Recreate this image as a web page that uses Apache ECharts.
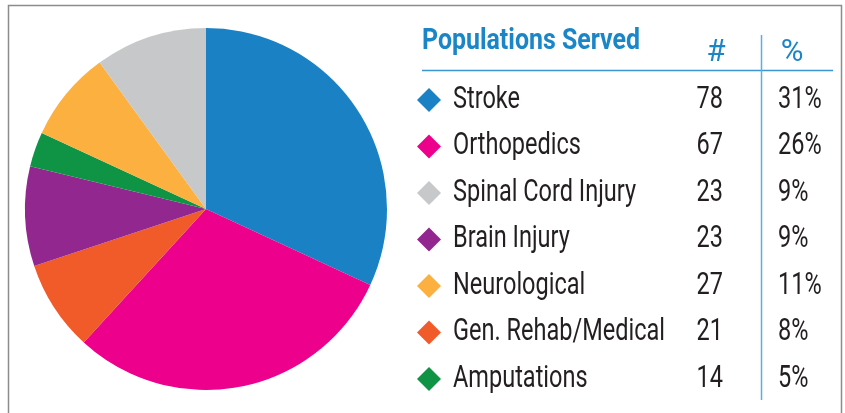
<!DOCTYPE html>
<html>
<head>
<meta charset="utf-8">
<script src="https://cdn.jsdelivr.net/npm/echarts@6/dist/echarts.min.js"></script>
<style>
html,body{margin:0;padding:0;background:#fff;}
#chart{width:845px;height:413px;}
</style>
</head>
<body>
<div id="chart"></div>
<script>
// Table rows, in table order
var categories = ['Stroke', 'Orthopedics', 'Spinal Cord Injury', 'Brain Injury', 'Neurological', 'Gen. Rehab/Medical', 'Amputations'];
var counts = [78, 67, 23, 23, 27, 21, 14];
var percents = [31, 26, 9, 9, 11, 8, 5];
var colors = ['#1a82c4', '#ec008c', '#c7c8ca', '#92278f', '#fbb040', '#f15a29', '#0f9445'];
var tableTitle = 'Populations Served';
var columnHeads = ['#', '%'];

// Pie slices as drawn (clockwise from 12 o'clock), shares
var sliceOrder = ['Stroke', 'Orthopedics', 'Gen. Rehab/Medical', 'Brain Injury', 'Amputations', 'Neurological', 'Spinal Cord Injury'];
var sliceShares = [31.9, 29.9, 8.1, 8.9, 3.1, 8.1, 10.0];

var FAMILY = 'Roboto';
var TEXT = '#231f20';
var BLUE = '#1a86c8';
var FS = 30.5;
var TFS = 29.5;
var HFS = 31;

// condensed look: horizontal squeeze measured against the reference widths
var mctx = document.createElement('canvas').getContext('2d');
function textW(t, font) { mctx.font = font; return mctx.measureText(t).width; }
var bodyScale = 212 / textW('Gen. Rehab/Medical', FS + 'px ' + FAMILY);
var titleScale = 218 / textW(tableTitle, 'bold ' + TFS + 'px ' + FAMILY);

var chart = echarts.init(document.getElementById('chart'), null, {renderer: 'canvas'});

var pieData = sliceOrder.map(function (name, i) {
  return {name: name, value: sliceShares[i], itemStyle: {color: colors[categories.indexOf(name)]}};
});

var ROW0 = 100, ROWH = 46.5;
var graphics = [
  {type: 'rect', shape: {x: 8.5, y: 5.5, width: 833, height: 430}, style: {fill: 'none', stroke: '#8c8c8c', lineWidth: 1.5}, silent: true},
  {type: 'text', x: 422, y: 41.5, scaleX: titleScale, style: {text: tableTitle, fontFamily: FAMILY, fontWeight: 'bold', fontSize: TFS, fill: BLUE, verticalAlign: 'middle'}},
  {type: 'text', x: 716, y: 53.5, style: {text: columnHeads[0], fontFamily: FAMILY, fontSize: HFS, fill: BLUE, align: 'center', verticalAlign: 'middle'}},
  {type: 'text', x: 792, y: 53.5, style: {text: columnHeads[1], fontFamily: FAMILY, fontSize: HFS, fill: BLUE, align: 'center', verticalAlign: 'middle'}},
  {type: 'line', shape: {x1: 422, y1: 70.5, x2: 833, y2: 70.5}, style: {stroke: '#3b95d3', lineWidth: 1.5}},
  {type: 'line', shape: {x1: 761.5, y1: 35, x2: 761.5, y2: 400}, style: {stroke: '#5aaee0', lineWidth: 1.5}}
];
categories.forEach(function (name, i) {
  var cy = ROW0 + ROWH * i;
  var cx = 429, hw = 12, hh = 12;
  graphics.push({type: 'polygon', shape: {points: [[cx, cy - hh], [cx + hw, cy], [cx, cy + hh], [cx - hw, cy]]}, style: {fill: colors[i]}});
  graphics.push({type: 'text', x: 453, y: cy, scaleX: bodyScale, style: {text: name, fontFamily: FAMILY, fontSize: FS, fill: TEXT, verticalAlign: 'middle'}});
  graphics.push({type: 'text', x: 723, y: cy, scaleX: bodyScale, style: {text: String(counts[i]), fontFamily: FAMILY, fontSize: FS, fill: TEXT, align: 'right', verticalAlign: 'middle'}});
  graphics.push({type: 'text', x: 778, y: cy, scaleX: bodyScale, style: {text: percents[i] + '%', fontFamily: FAMILY, fontSize: FS, fill: TEXT, verticalAlign: 'middle'}});
});

var option = {
  backgroundColor: '#ffffff',
  animation: false,
  graphic: graphics,
  series: [{
    type: 'pie',
    center: [206, 209],
    radius: [0, 181],
    startAngle: 90,
    clockwise: true,
    silent: true,
    label: {show: false},
    labelLine: {show: false},
    itemStyle: {borderWidth: 0},
    data: pieData
  }]
};
chart.setOption(option);
</script>
</body>
</html>
